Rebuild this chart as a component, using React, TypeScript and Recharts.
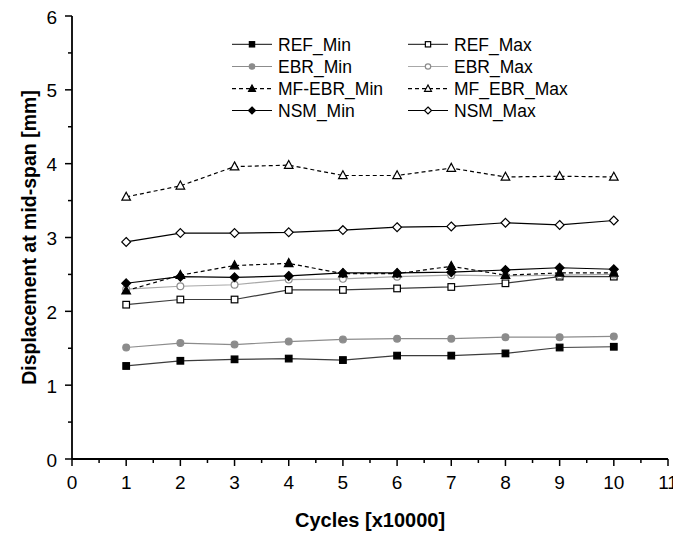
import { LineChart, Line, XAxis, YAxis, Legend } from 'recharts';

const cycles = [1, 2, 3, 4, 5, 6, 7, 8, 9, 10];
const refMin = [1.26, 1.33, 1.35, 1.36, 1.34, 1.4, 1.4, 1.43, 1.51, 1.52];
const refMax = [2.09, 2.16, 2.16, 2.29, 2.29, 2.31, 2.33, 2.38, 2.47, 2.47];
const ebrMin = [1.51, 1.57, 1.55, 1.59, 1.62, 1.63, 1.63, 1.65, 1.65, 1.66];
const ebrMax = [2.3, 2.34, 2.36, 2.43, 2.44, 2.47, 2.49, 2.48, 2.49, 2.5];
const mfEbrMin = [2.28, 2.49, 2.62, 2.65, 2.51, 2.51, 2.61, 2.49, 2.52, 2.52];
const mfEbrMax = [3.55, 3.7, 3.96, 3.98, 3.84, 3.84, 3.94, 3.82, 3.83, 3.82];
const nsmMin = [2.38, 2.47, 2.46, 2.48, 2.52, 2.52, 2.53, 2.56, 2.59, 2.57];
const nsmMax = [2.94, 3.06, 3.06, 3.07, 3.1, 3.14, 3.15, 3.2, 3.17, 3.23];

const xTicks = [0, 0.5, 1, 1.5, 2, 2.5, 3, 3.5, 4, 4.5, 5, 5.5, 6, 6.5, 7, 7.5, 8, 8.5, 9, 9.5, 10, 10.5, 11];
const yTicks = [0, 0.5, 1, 1.5, 2, 2.5, 3, 3.5, 4, 4.5, 5, 5.5, 6];

const FONT = '"Liberation Sans", Arial, sans-serif';

type Shape = 'square' | 'circle' | 'triangle' | 'diamond';

interface SeriesDef {
  key: string;
  name: string;
  values: number[];
  stroke: string;
  dash?: string;
  shape: Shape;
  fill: string;
  markStroke: string;
}

const series: SeriesDef[] = [
  { key: 'refMin', name: 'REF_Min', values: refMin, stroke: '#3c3c3c', shape: 'square', fill: '#000', markStroke: '#000' },
  { key: 'refMax', name: 'REF_Max', values: refMax, stroke: '#3c3c3c', shape: 'square', fill: '#fff', markStroke: '#000' },
  { key: 'ebrMin', name: 'EBR_Min', values: ebrMin, stroke: '#8c8c8c', shape: 'circle', fill: '#8c8c8c', markStroke: '#8c8c8c' },
  { key: 'ebrMax', name: 'EBR_Max', values: ebrMax, stroke: '#a8a8a8', shape: 'circle', fill: '#fff', markStroke: '#8c8c8c' },
  { key: 'mfEbrMin', name: 'MF-EBR_Min', values: mfEbrMin, stroke: '#000', dash: '4 3', shape: 'triangle', fill: '#000', markStroke: '#000' },
  { key: 'mfEbrMax', name: 'MF_EBR_Max', values: mfEbrMax, stroke: '#000', dash: '4 3', shape: 'triangle', fill: '#fff', markStroke: '#000' },
  { key: 'nsmMin', name: 'NSM_Min', values: nsmMin, stroke: '#000', shape: 'diamond', fill: '#000', markStroke: '#000' },
  { key: 'nsmMax', name: 'NSM_Max', values: nsmMax, stroke: '#000', shape: 'diamond', fill: '#fff', markStroke: '#000' },
];

const data = cycles.map((c, i) => {
  const row: Record<string, number> = { cycle: c };
  series.forEach((s) => {
    row[s.key] = s.values[i];
  });
  return row;
});

function Marker({ cx, cy, s, scale = 1 }: { cx: number; cy: number; s: SeriesDef; scale?: number }) {
  const common = { fill: s.fill, stroke: s.markStroke, strokeWidth: 1.2 };
  if (s.shape === 'square') {
    const h = 3.3 * scale;
    return <rect x={cx - h} y={cy - h} width={h * 2} height={h * 2} {...common} />;
  }
  if (s.shape === 'circle') {
    return <circle cx={cx} cy={cy} r={3.4 * scale} {...common} />;
  }
  if (s.shape === 'triangle') {
    const h = 4.3 * scale;
    return <polygon points={`${cx},${cy - h * 1.1} ${cx + h},${cy + h * 0.75} ${cx - h},${cy + h * 0.75}`} {...common} />;
  }
  const h = 4.4 * scale;
  return <polygon points={`${cx},${cy - h} ${cx + h},${cy} ${cx},${cy + h} ${cx - h},${cy}`} {...common} />;
}

const isMajor = (v: number) => Number.isInteger(v);

const BottomTick = ({ x, y, payload }: any) => (
  <g>
    <line x1={x} y1={y} x2={x} y2={y + (isMajor(payload.value) ? 7 : 4)} stroke="#000" strokeWidth={1.5} />
    {isMajor(payload.value) && (
      <text x={x} y={y + 30} textAnchor="middle" fontSize={19} fontFamily={FONT} fill="#000">
        {payload.value}
      </text>
    )}
  </g>
);

const TopTick = ({ x, y, payload }: any) => (
  <line x1={x} y1={y} x2={x} y2={y - (isMajor(payload.value) ? 7 : 4)} stroke="#000" strokeWidth={1.5} />
);

const LeftTick = ({ x, y, payload }: any) => (
  <g>
    <line x1={x} y1={y} x2={x - (isMajor(payload.value) ? 7 : 4)} y2={y} stroke="#000" strokeWidth={1.5} />
    {isMajor(payload.value) && (
      <text x={x - 15} y={y + 7.5} textAnchor="end" fontSize={19} fontFamily={FONT} fill="#000">
        {payload.value}
      </text>
    )}
  </g>
);

const RightTick = ({ x, y, payload }: any) => (
  <line x1={x} y1={y} x2={x + (isMajor(payload.value) ? 7 : 4)} y2={y} stroke="#000" strokeWidth={1.5} />
);

const legendCols = [224, 400];
const legendRows = [36.3, 58.5, 80.7, 102.5];

const LegendBox = () => (
  <svg width={673} height={130} style={{ display: 'block' }}>
    {series.map((s, i) => {
      const x0 = legendCols[i % 2];
      const y0 = legendRows[Math.floor(i / 2)];
      return (
        <g key={s.key}>
          <line x1={x0} y1={y0} x2={x0 + 40} y2={y0} stroke={s.stroke} strokeWidth={1.2} strokeDasharray={s.dash} />
          <Marker cx={x0 + 20} cy={y0} s={s} scale={0.8} />
          <text x={x0 + 46} y={y0 + 6.3} fontSize={17.5} fontFamily={FONT} fill="#000">
            {s.name}
          </text>
        </g>
      );
    })}
  </svg>
);

export default function App() {
  return (
    <LineChart width={673} height={530} data={data} margin={{ top: 8, right: 13, left: 0, bottom: 0 }}>
      <XAxis
        dataKey="cycle"
        type="number"
        domain={[0, 11]}
        ticks={xTicks}
        interval={0}
        height={79}
        tickLine={false}
        tickSize={0}
        tickMargin={0}
        tick={BottomTick}
        axisLine={{ stroke: '#000', strokeWidth: 1.8 }}
        label={{
          content: ({ viewBox }: any) => (
            <text
              x={viewBox.x + viewBox.width / 2}
              y={viewBox.y + 68}
              textAnchor="middle"
              fontSize={20}
              fontWeight="bold"
              fontFamily={FONT}
              fill="#000"
            >
              Cycles [x10000]
            </text>
          ),
        }}
      />
      <XAxis
        xAxisId="top"
        orientation="top"
        type="number"
        domain={[0, 11]}
        ticks={xTicks}
        interval={0}
        height={0}
        tickLine={false}
        tickSize={0}
        tickMargin={0}
        tick={TopTick}
        axisLine={{ stroke: '#000', strokeWidth: 1.8 }}
      />
      <YAxis
        type="number"
        domain={[0, 6]}
        ticks={yTicks}
        interval={0}
        width={64}
        tickLine={false}
        tickSize={0}
        tickMargin={0}
        tick={LeftTick}
        axisLine={{ stroke: '#000', strokeWidth: 1.8 }}
        label={{
          content: ({ viewBox }: any) => {
            const cx = 21;
            const cy = viewBox.y + viewBox.height / 2;
            return (
              <text
                x={cx}
                y={cy}
                transform={`rotate(-90 ${cx} ${cy})`}
                textAnchor="middle"
                dominantBaseline="central"
                fontSize={19.5}
                fontWeight="bold"
                fontFamily={FONT}
                fill="#000"
              >
                Displacement at mid-span [mm]
              </text>
            );
          },
        }}
      />
      <YAxis
        yAxisId="right"
        orientation="right"
        type="number"
        domain={[0, 6]}
        ticks={yTicks}
        interval={0}
        width={0}
        tickLine={false}
        tickSize={0}
        tickMargin={0}
        tick={RightTick}
        axisLine={{ stroke: '#000', strokeWidth: 1.8 }}
      />
      <Legend
        layout="horizontal"
        verticalAlign="middle"
        align="center"
        wrapperStyle={{ left: 0, top: 0, width: 673, height: 130 }}
        content={() => <LegendBox />}
      />
      {series.map((s) => (
        <Line
          key={s.key}
          dataKey={s.key}
          name={s.name}
          type="linear"
          stroke={s.stroke}
          strokeWidth={1.2}
          strokeDasharray={s.dash}
          isAnimationActive={false}
          dot={(p: any) => <Marker key={`${s.key}-${p.index}`} cx={p.cx} cy={p.cy} s={s} />}
          activeDot={false}
        />
      ))}
    </LineChart>
  );
}
